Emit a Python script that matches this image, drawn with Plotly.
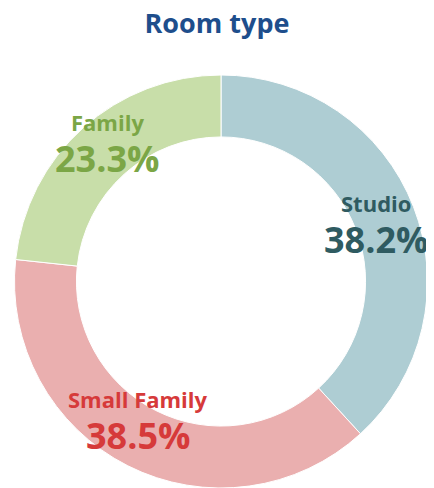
import math
import plotly.graph_objects as go

labels = ["Studio", "Small Family", "Family"]
values = [38.2, 38.5, 23.3]
slice_colors = ["#aecdd3", "#eaafaf", "#c8dea9"]
text_colors = ["#2f5b61", "#d63a3a", "#7ba646"]
label_radius = [0.807, 0.77, 0.877]
label_angle_shift = [0.0, 4.6, 3.1]

# the page body has an 8px margin, so the figure is drawn 8px smaller and offset
W, H = 426, 480
ml, mr, mt, mb = 6, 6, 67, 0

fig = go.Figure(go.Pie(
    labels=labels, values=values, hole=0.70, sort=False, direction="clockwise",
    rotation=0, marker=dict(colors=slice_colors, line=dict(color="white", width=1)),
    textinfo="none", hoverinfo="label+percent", showlegend=False,
))

pw, ph = W - ml - mr, H - mt - mb
R = min(pw, ph) / 2
total = sum(values)
cum = 0
for lab, v, col, rf, sh in zip(labels, values, text_colors, label_radius, label_angle_shift):
    mid = (cum + v / 2) / total * 2 * math.pi + math.radians(sh)
    cum += v
    dx = rf * R * math.sin(mid)
    dy = rf * R * math.cos(mid)
    x = 0.5 + dx / pw
    y = 0.5 + dy / ph
    fig.add_annotation(x=x, y=y, xref="paper", yref="paper", text=lab,
                       xanchor="center", yanchor="middle",
                       showarrow=False, yshift=18,
                       font=dict(size=22, color=col, family="Open Sans", weight=700))
    fig.add_annotation(x=x, y=y, xref="paper", yref="paper", text=f"{v:.1f}%",
                       xanchor="center", yanchor="middle",
                       showarrow=False, yshift=-18,
                       font=dict(size=36, color=col, family="Open Sans", weight=700))

fig.update_layout(
    width=W, height=H, margin=dict(l=ml, r=mr, t=mt, b=mb),
    paper_bgcolor="white", plot_bgcolor="white",
    title=dict(text="Room type", x=209 / W, xref="container", xanchor="center",
               y=1 - 16 / H, yref="container", yanchor="middle",
               font=dict(size=27, color="#1e4e8c", family="Open Sans", weight=700)),
)
fig.write_html("out.html")
